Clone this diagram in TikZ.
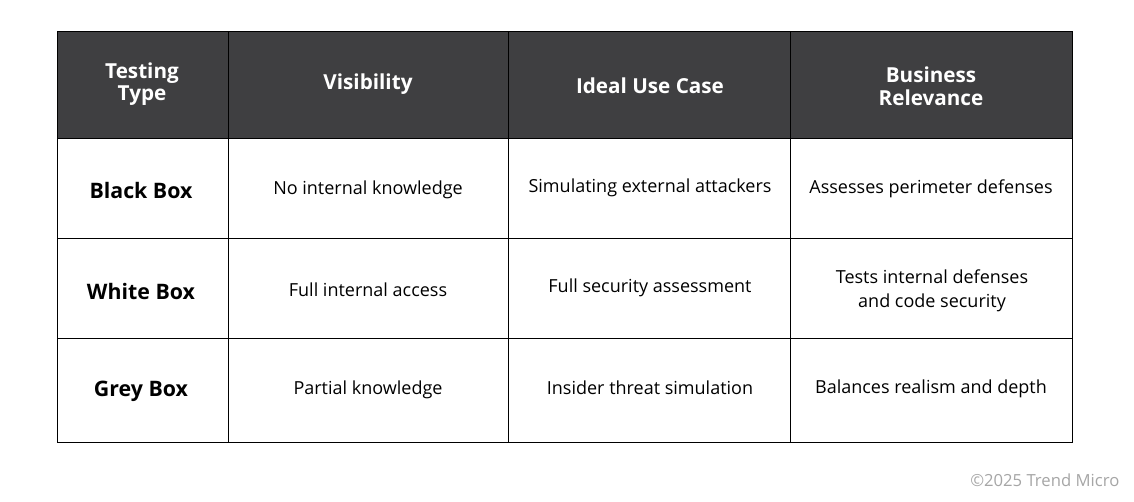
\documentclass[tikz,border=0pt]{standalone}
\usepackage{fontspec}
\setmainfont{Open Sans}
\usetikzlibrary{positioning}
\definecolor{headgray}{HTML}{3F3F41}
\definecolor{notegray}{HTML}{A6A6A6}
\tikzset{
    x=0.75pt,y=-0.75pt,
    head/.style ={text=white, font=\fontsize{15.5}{17}\selectfont\bfseries, align=center},
    rowhead/.style ={font=\fontsize{16}{18}\selectfont\bfseries, align=center},
    cell/.style ={font=\fontsize{13.5}{18}\selectfont, align=center},
    grid/.style = {draw=black, line width=0.6pt}
}
\begin{document}
\begin{tikzpicture}
 \useasboundingbox (0,0) rectangle (1134,501);
 \fill[white] (0,0) rectangle (1134,501);
 \fill[headgray] (57,31) rectangle (1072,138);
    % grid
    \draw[grid] (57,31) rectangle (1072,442);
    \foreach \y in {138,238,338} \draw[grid] (57,\y) -- (1072,\y);
    \foreach \x in {228,508,790} \draw[grid] (\x,31) -- (\x,442);
    % header
    \node[head] (h1) at (142,84) {Testing\\Type};
    \node[head] (h2) at (368,84) {Visibility};
    \node[head] (h3) at (650,86) {Ideal Use Case};
    \node[head] (h4) at (931,86) {Business\\Relevance};
    % rows
    \node[rowhead] (b1) at (141,190) {Black Box};
    \node[cell] (b2) at (368,190) {No internal knowledge};
    \node[cell] (b3) at (650,188) {Simulating external attackers};
    \node[cell] (b4) at (931,189) {Assesses perimeter defenses};
    \node[rowhead] (w1) at (141,291) {White Box};
    \node[cell] (w2) at (368,290) {Full internal access};
    \node[cell] (w3) at (650,288) {Full security assessment};
    \node[cell] (w4) at (932,291) {Tests internal defenses\\and code security};
    \node[rowhead] (g1) at (141,391) {Grey Box};
    \node[cell] (g2) at (368,390) {Partial knowledge};
    \node[cell] (g3) at (650,388) {Insider threat simulation};
    \node[cell] (g4) at (931,389) {Balances realism and depth};
    \node[text=notegray, font=\fontsize{12.5}{14}\selectfont, anchor=east] (copy) at (1124,480) {©2025 Trend Micro};
\end{tikzpicture}
\end{document}
